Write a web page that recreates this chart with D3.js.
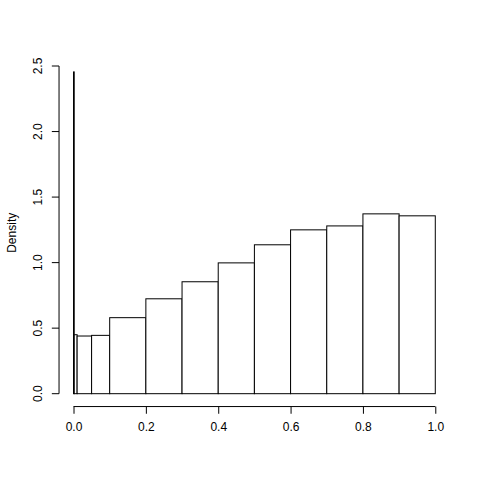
<!DOCTYPE html>
<html><head><meta charset="utf-8">
<script src="https://cdn.jsdelivr.net/npm/d3@7"></script>
<style>body{margin:0;background:#fff}svg{display:block}text{font-family:"Liberation Sans",Arial,sans-serif;font-size:12px;fill:#000}</style>
</head><body>
<script>
const breaks = [0, 0.002, 0.01, 0.05, 0.1, 0.2, 0.3, 0.4, 0.5, 0.6, 0.7, 0.8, 0.9, 1.0];
const densities = [2.455, 0.45, 0.44, 0.445, 0.58, 0.724, 0.854, 0.998, 1.136, 1.25, 1.28, 1.372, 1.357];
const xTicks = [0, 0.2, 0.4, 0.6, 0.8, 1.0];
const yTicks = [0, 0.5, 1.0, 1.5, 2.0, 2.5];
const yLabel = "Density";

(function () {
const W = 480, H = 480;
const pl = 59.04, pr = 480 - 30.24, pt = 59.04, pb = 480 - 73.44;
const ymax = d3.max(densities);
const x = d3.scaleLinear().domain([-0.04, 1.04]).range([pl, pr]);
const y = d3.scaleLinear().domain([-0.04 * ymax, 1.04 * ymax]).range([pb, pt]);

const svg = d3.select("body").append("svg").attr("width", W).attr("height", H);

const bars = densities.map((d, i) => ({x0: breaks[i], x1: breaks[i + 1], d}));
svg.append("g").selectAll("rect").data(bars).join("rect")
  .attr("x", b => x(b.x0)).attr("y", b => y(b.d))
  .attr("width", b => x(b.x1) - x(b.x0)).attr("height", b => y(0) - y(b.d))
  .attr("fill", "white").attr("stroke", "black").attr("stroke-width", 1);

const xAxis = d3.axisBottom(x).tickValues(xTicks).tickFormat(d3.format(".1f")).tickSizeOuter(0).tickSizeInner(7.2).tickPadding(9);
const gx = svg.append("g").attr("transform", `translate(0,${pb})`).call(xAxis);
gx.select(".domain").attr("d", `M${x(0)},0H${x(1)}`);
gx.attr("font-family", null).attr("font-size", null);

const yAxis = d3.axisLeft(y).tickValues(yTicks).tickFormat(d3.format(".1f")).tickSizeOuter(0).tickSizeInner(7.2);
const gy = svg.append("g").attr("transform", `translate(${pl},0)`).call(yAxis);
gy.attr("font-family", null).attr("font-size", null);
gy.select(".domain").attr("d", `M0,${y(0)}V${y(2.5)}`);
gy.selectAll(".tick").attr("transform", null);
gy.selectAll(".tick line").attr("transform", d => `translate(0,${y(d)})`);
gy.selectAll(".tick text").attr("x", 0).attr("y", 0).attr("dy", null).attr("text-anchor", "middle")
  .attr("transform", d => `translate(-17,${y(d)}) rotate(-90)`);

svg.append("text").attr("text-anchor", "middle")
  .attr("transform", `translate(15.5,${(pt + pb) / 2}) rotate(-90)`).text(yLabel);
})();
</script>
</body></html>
